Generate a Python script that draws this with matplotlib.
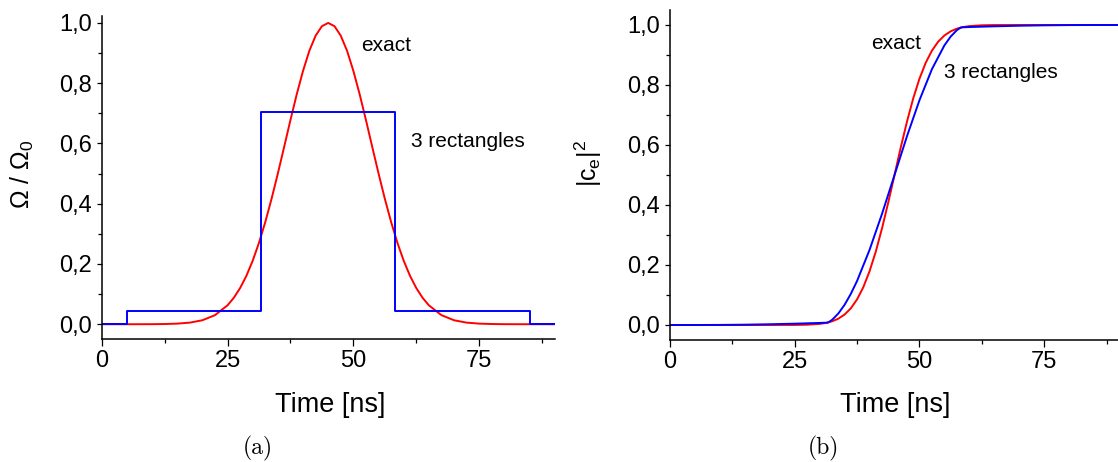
import matplotlib
matplotlib.use("Agg")
import matplotlib.pyplot as plt
from matplotlib.ticker import MultipleLocator, FuncFormatter

plt.rcParams['font.family'] = ['Liberation Sans', 'DejaVu Sans']
plt.rcParams['mathtext.fontset'] = 'custom'
plt.rcParams['mathtext.rm'] = 'Liberation Sans'
plt.rcParams['mathtext.it'] = 'Liberation Sans'

# (a) pulse shape: exact gaussian and 3-rectangle approximation
t_exact = [0, 5, 7.5, 10, 12.5, 15, 17.5, 20, 22.5, 25, 26.25, 27.5, 28.75, 30,
           31.25, 32.5, 33.75, 35, 36.25, 37.5, 38.75, 40, 41.25, 42.5, 43.75, 45,
           46.25, 47.5, 48.75, 50, 51.25, 52.5, 53.75, 55, 56.25, 57.5, 58.75, 60,
           61.25, 62.5, 63.75, 65, 67.5, 70, 72.5, 75, 77.5, 80, 82.5, 85, 90]
omega_exact = [0, 0, 0.0001, 0.0002, 0.0007, 0.0020, 0.0053, 0.0132, 0.0301, 0.0628,
               0.0878, 0.1201, 0.1608, 0.2108, 0.2703, 0.3392, 0.4165, 0.5005, 0.5887,
               0.6777, 0.7632, 0.8409, 0.9073, 0.9576, 0.9892, 1.0, 0.9892, 0.9576,
               0.9073, 0.8409, 0.7632, 0.6777, 0.5887, 0.5005, 0.4165, 0.3392, 0.2703,
               0.2108, 0.1608, 0.1201, 0.0878, 0.0628, 0.0301, 0.0132, 0.0053, 0.0020,
               0.0007, 0.0002, 0.0001, 0, 0]

t_rect = [0, 5, 31.67, 58.33, 85, 90]
omega_rect = [0, 0.045, 0.705, 0.045, 0, 0]

# (b) excited state population
t_pop_exact = [0, 10, 15, 20, 25, 27.5, 30, 31.25, 32.5, 33.75, 35, 36.25, 37.5, 38.75,
               40, 41.25, 42.5, 43.75, 45, 46.25, 47.5, 48.75, 50, 51.25, 52.5, 53.75,
               55, 56.25, 57.5, 58.75, 60, 62.5, 65, 70, 80, 90]
pop_exact = [0, 0, 0, 0.00001, 0.0002, 0.001, 0.0037, 0.0069, 0.0123, 0.0211, 0.035,
             0.0557, 0.0855, 0.1261, 0.1792, 0.2448, 0.3224, 0.4084, 0.5, 0.5916,
             0.6776, 0.7552, 0.8208, 0.8739, 0.9145, 0.9443, 0.965, 0.9789, 0.9877,
             0.9931, 0.9963, 0.999, 0.9998, 1.0, 1.0, 1.0]

t_pop_rect = [0, 5, 10, 15, 20, 25, 30, 31.67, 32.5, 33.75, 35, 36.25, 37.5, 40, 42.5,
              45, 47.5, 50, 52.5, 55, 56.25, 57.5, 58.33, 60, 65, 70, 75, 80, 85, 90]
pop_rect = [0, 0, 0.0003, 0.0011, 0.0025, 0.0044, 0.0069, 0.0079, 0.0174, 0.0385,
            0.0675, 0.1039, 0.147, 0.2504, 0.3706, 0.4997, 0.6292, 0.7491, 0.8527,
            0.932, 0.9612, 0.9828, 0.9921, 0.9932, 0.9956, 0.9975, 0.9989, 0.9997,
            1.0, 1.0]

W, H = 1118, 462
fig = plt.figure(figsize=(W / 100, H / 100), dpi=100)

ax1 = fig.add_axes([101.7 / W, 1 - 339.3 / H, 453 / W, 323 / H])
ax2 = fig.add_axes([670 / W, 1 - 340 / H, 449 / W, 330 / H])

red, blue = '#ff0000', '#0000ff'

ax1.plot(t_exact, omega_exact, color=red, lw=1.4)
ax1.step(t_rect, omega_rect, where='post', color=blue, lw=1.4)
ax1.set_ylim(-0.05, 1.022)

ax2.plot(t_pop_exact, pop_exact, color=red, lw=1.4)
ax2.plot(t_pop_rect, pop_rect, color=blue, lw=1.4)
ax2.set_ylim(-0.05, 1.05)

comma = FuncFormatter(lambda v, p: ('%.1f' % v).replace('.', ','))
for ax in (ax1, ax2):
    ax.set_xlim(0, 90)
    ax.spines['top'].set_visible(False)
    ax.spines['right'].set_visible(False)
    for s in ('left', 'bottom'):
        ax.spines[s].set_linewidth(1.1)
    ax.xaxis.set_major_locator(MultipleLocator(25))
    ax.xaxis.set_minor_locator(MultipleLocator(12.5))
    ax.yaxis.set_major_locator(MultipleLocator(0.2))
    ax.yaxis.set_minor_locator(MultipleLocator(0.1))
    ax.yaxis.set_major_formatter(comma)
    ax.tick_params(which='both', width=0.9, labelsize=17)
    ax.tick_params(axis='x', which='major', length=4.8, pad=3)
    ax.tick_params(axis='x', which='minor', length=3)
    ax.tick_params(axis='y', which='major', length=3.8, pad=3.5)
    ax.tick_params(axis='y', which='minor', length=2.8)

# axis titles placed like the original export
fig.text(330 / W, 1 - 411.5 / H, 'Time [ns]', fontsize=19.5, ha='center', va='baseline')
fig.text(895 / W, 1 - 411.5 / H, 'Time [ns]', fontsize=19.5, ha='center', va='baseline')
fig.text(22 / W, 1 - 174 / H, r'$\Omega\ /\ \Omega_0$', fontsize=18, rotation=90,
         ha='center', va='center')
fig.text(588 / W, 1 - 163 / H, r'$|c_e|^2$', fontsize=18, rotation=90,
         ha='center', va='center')

ax1.text(51.6, 0.925, 'exact', fontsize=15, va='center')
ax1.text(61.5, 0.607, '3 rectangles', fontsize=15, va='center')
ax2.text(40.3, 0.937, 'exact', fontsize=15, va='center')
ax2.text(54.9, 0.843, '3 rectangles', fontsize=15, va='center')

fig.text(258 / W, 1 - 448 / H, '(a)', fontsize=17, family=['cmr10', 'DejaVu Serif'],
         ha='center', va='center')
fig.text(823 / W, 1 - 448 / H, '(b)', fontsize=17, family=['cmr10', 'DejaVu Serif'],
         ha='center', va='center')

fig.savefig('out.png', dpi=100)
